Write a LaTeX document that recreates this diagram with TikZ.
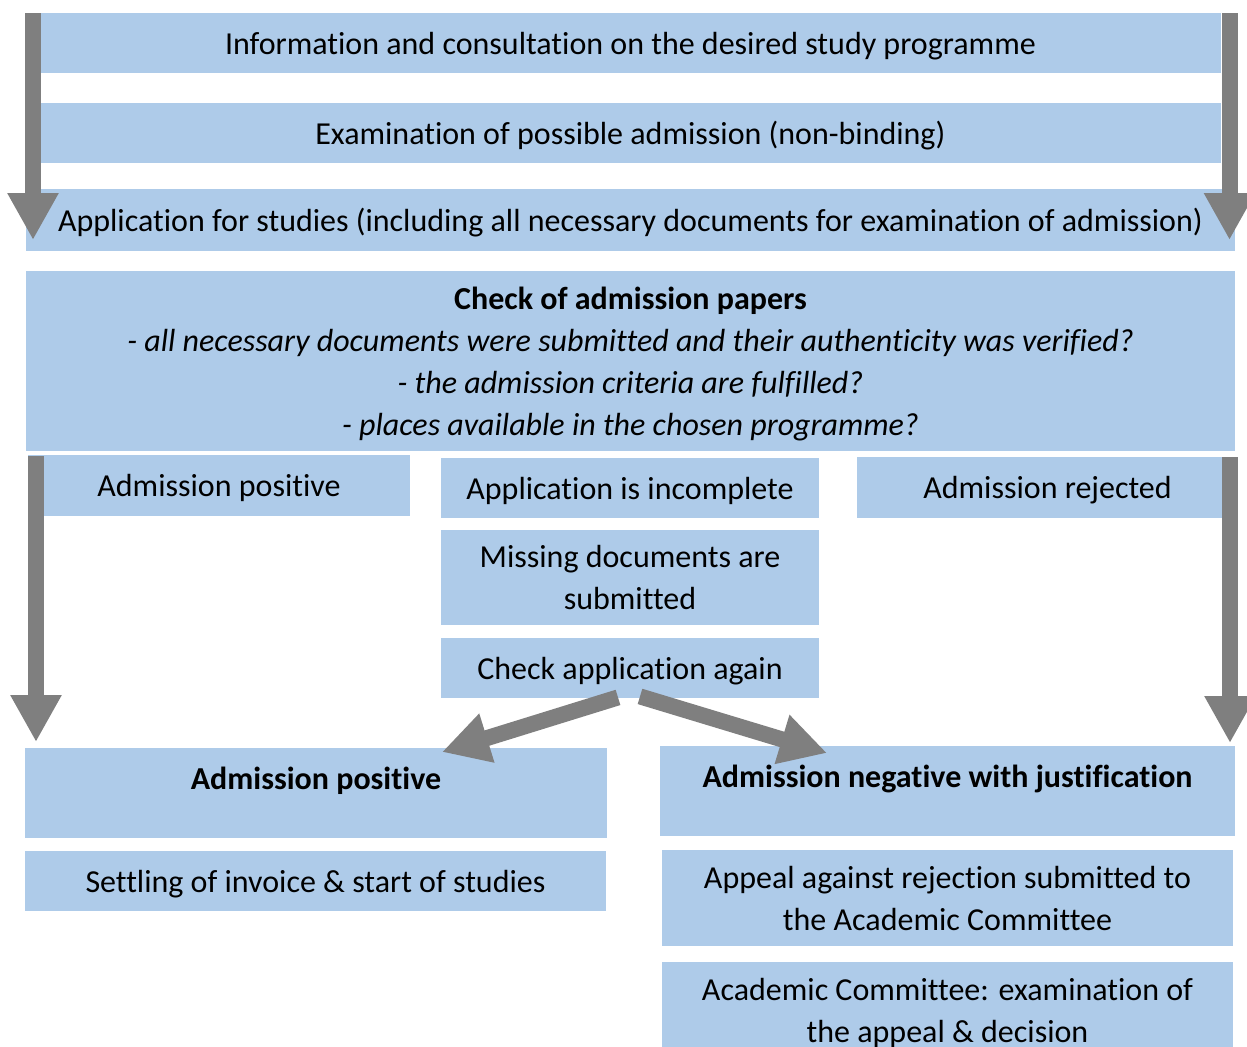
\documentclass[tikz,border=0pt]{standalone}
\usepackage{fontspec}
\setmainfont{Carlito}[Ligatures={NoCommon}]
\usetikzlibrary{arrows.meta}
\definecolor{boxblue}{RGB}{174,203,233}
\definecolor{arrowgray}{RGB}{127,127,127}
\tikzset{
  box/.style={fill=boxblue, inner sep=0pt, align=center, text depth=0pt, font=\fontsize{16}{21}\selectfont},
  bigarrow/.style={draw=arrowgray, line width=8pt, -{Triangle[width=24pt,length=23.5pt]}}
}
\begin{document}
\begin{tikzpicture}[x=0.5pt,y=-0.5pt]
  \useasboundingbox (0,0) rectangle (1247,1046);
  \clip (0,0) rectangle (1247,1046);
  \node (info) at (630.5,43) [box, minimum width=590.5pt, minimum height=30pt] {Information and consultation on the desired study programme};
  \node (exam) at (630.5,133) [box, minimum width=590.5pt, minimum height=30pt] {Examination of possible admission (non-binding)};
  \node (apply) at (630.5,220) [box, minimum width=604.5pt, minimum height=31pt] {Application for studies (including all necessary documents for examination of admission)};
  \node (check) at (630.5,361) [box, minimum width=604.5pt, minimum height=90pt] {\textbf{Check of admission papers}\\
    \textit{- all necessary documents were submitted and their authenticity was verified?}\\
    \textit{- the admission criteria are fulfilled?}\\
    \textit{- places available in the chosen programme?}};

  \node (pos) at (219,485.5) [box, minimum width=191pt, minimum height=30.5pt] {Admission positive};
  \node (incomplete) at (630,488) [box, minimum width=189pt, minimum height=30pt] {Application is incomplete};
  \node (rejected) at (1047.5,487.5) [box, minimum width=190.5pt, minimum height=30.5pt] {Admission rejected};
  \node (missing) at (630,577.5) [box, minimum width=189pt, minimum height=47.5pt] {Missing documents are\\submitted};
  \node (again) at (630,668) [box, minimum width=189pt, minimum height=30pt] {Check application again};

  \node (posfinal) at (316,793) [box, minimum width=291pt, minimum height=45pt, text height=10pt, text depth=14pt] {\textbf{Admission positive}};
  \node (negfinal) at (947.5,791) [box, minimum width=287.5pt, minimum height=45pt, text height=10pt, text depth=14pt] {\textbf{Admission negative with justification}};
  \node (settle) at (315.5,881) [box, minimum width=290.5pt, minimum height=30pt] {Settling of invoice \& start of studies};
  \node (appeal) at (947.5,898) [box, minimum width=285.5pt, minimum height=48pt] {Appeal against rejection submitted to\\the Academic Committee};
  \node (committee) at (947.5,1010) [box, minimum width=285.5pt, minimum height=48pt] {Academic Committee: examination of\\the appeal \& decision};

  % block arrows beside the boxes
  \coordinate (tl) at (33,13); \coordinate (bl) at (33,240);
  \coordinate (tr) at (1229.5,13); \coordinate (br) at (1229.5,240);
  \coordinate (ml) at (36,456); \coordinate (ml2) at (36,742);
  \coordinate (mr) at (1230,457); \coordinate (mr2) at (1230,743);
  \draw [bigarrow] (tl) -- (bl); \draw [bigarrow] (tr) -- (br);
  \draw [bigarrow] (ml) -- (ml2); \draw [bigarrow] (mr) -- (mr2);

  % outcomes of the second check
  \coordinate (lefttip) at (442,752); \coordinate (righttip) at (827,753);
  \draw [bigarrow] ([xshift=-6pt,yshift=0.5pt]again.south) -- (lefttip);
  \draw [bigarrow] ([xshift=5pt,yshift=1pt]again.south) -- (righttip);
\end{tikzpicture}
\end{document}
